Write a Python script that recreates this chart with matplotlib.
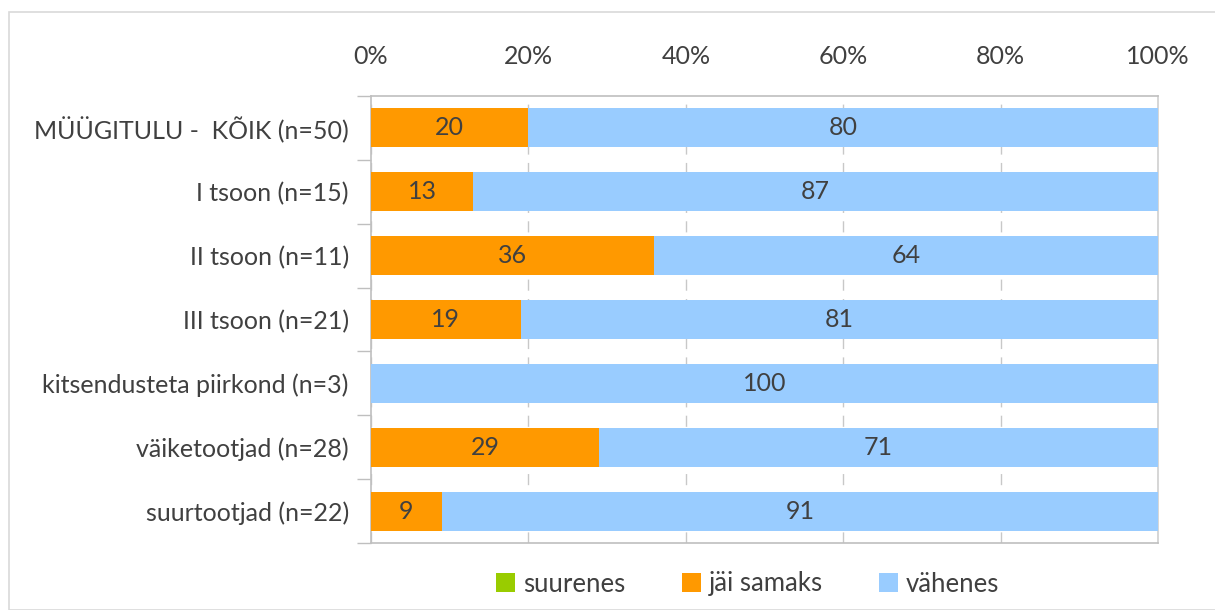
import matplotlib.pyplot as plt
from matplotlib.patches import Rectangle

categories = ['MÜÜGITULU -  KÕIK (n=50)', 'I tsoon (n=15)', 'II tsoon (n=11)',
              'III tsoon (n=21)', 'kitsendusteta piirkond (n=3)',
              'väiketootjad (n=28)', 'suurtootjad (n=22)']
suurenes = [0, 0, 0, 0, 0, 0, 0]
jai_samaks = [20, 13, 36, 19, 0, 29, 9]
vahenes = [80, 87, 64, 81, 100, 71, 91]
series_names = ['suurenes', 'jäi samaks', 'vähenes']
colors = ['#99CC00', '#FF9900', '#99CCFF']

plt.rcParams['font.family'] = ['Lato', 'DejaVu Sans']
text_col = '#404040'
fs = 18

fig = plt.figure(figsize=(12.15, 6.1), dpi=100)
ax = fig.add_axes([371 / 1215, 1 - 543 / 610, (1158 - 371) / 1215, (543 - 96) / 610])

y = list(range(len(categories)))
left = [0] * len(categories)
for name, vals, c in zip(series_names, [suurenes, jai_samaks, vahenes], colors):
    bars = ax.barh(y, vals, left=left, height=0.61, color=c, label=name, zorder=3)
    for b, v, l in zip(bars, vals, left):
        if v > 0:
            ax.text(l + v / 2, b.get_y() + b.get_height() / 2, str(v),
                    ha='center', va='center', fontsize=fs, color=text_col, zorder=4)
    left = [a + b for a, b in zip(left, vals)]

ax.set_xlim(0, 100)
ax.set_ylim(len(categories) - 0.5, -0.5)
ax.set_xticks(range(0, 101, 20))
ax.set_xticklabels([f'{t}%' for t in range(0, 101, 20)])
ax.xaxis.tick_top()
ax.tick_params(axis='x', length=0, pad=20, labelsize=fs, colors=text_col)

ax.set_yticks(y)
ax.set_yticklabels(categories)
ax.tick_params(axis='y', length=0, pad=16, labelsize=fs, colors=text_col)
ax.set_yticks([i - 0.5 for i in range(len(categories) + 1)], minor=True)
ax.tick_params(axis='y', which='minor', length=10, color='#BFBFBF', width=1)

ax.grid(axis='x', color='#C8C8C8', linestyle=(0, (8, 6)), linewidth=1, zorder=0)
for s in ax.spines.values():
    s.set_color('#BFBFBF')
    s.set_linewidth(1.2)
ax.spines['right'].set_color('#D0D0D0')

leg = fig.legend(loc='center', bbox_to_anchor=(0.6156, 1 - 584 / 610), ncol=3,
                 frameon=False, fontsize=18.5, handlelength=0.74, handleheight=0.74,
                 columnspacing=2.2, handletextpad=0.3)
for t in leg.get_texts():
    t.set_color(text_col)

fig.patches.append(Rectangle((9 / 1215, 0), 1.2, 1 - 12 / 610, transform=fig.transFigure,
                             fill=False, edgecolor='#D9D9D9', linewidth=1.2))

fig.savefig('out.png', dpi=100)
